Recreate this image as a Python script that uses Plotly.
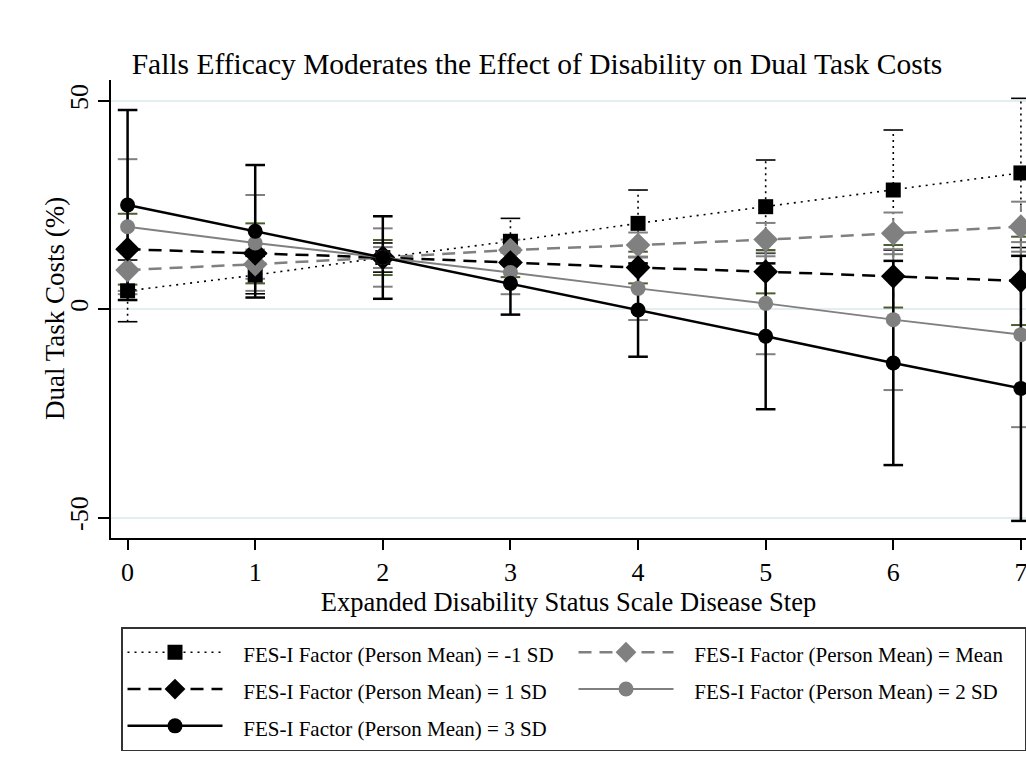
import plotly.graph_objects as go

# ---- data ----
edss = [0, 1, 2, 3, 4, 5, 6, 7]

names = [
    "FES-I Factor (Person Mean) = -1 SD",
    "FES-I Factor (Person Mean) = Mean",
    "FES-I Factor (Person Mean) = 1 SD",
    "FES-I Factor (Person Mean) = 2 SD",
    "FES-I Factor (Person Mean) = 3 SD",
]

m_neg1 = [4.4, 8.2, 12.4, 16.3, 20.6, 24.6, 28.6, 32.7]
ci_neg1 = [7.4, 4.5, 3.5, 5.5, 8.0, 11.2, 14.4, 17.9]

m_mean = [9.4, 10.8, 12.4, 14.2, 15.4, 16.7, 18.2, 19.8]
ci_mean = [5.0, 3.5, 2.5, 2.5, 3.0, 4.0, 5.0, 6.0]

m_1sd = [14.4, 13.4, 12.4, 11.2, 10.0, 9.0, 7.9, 6.8]
ci_1sd = [8.5, 7.2, 4.2, 3.5, 3.8, 5.2, 7.5, 10.6]

m_2sd = [19.8, 15.9, 12.4, 8.8, 5.0, 1.4, -2.5, -6.1]
ci_2sd = [16.2, 11.5, 7.0, 5.2, 7.6, 12.2, 16.9, 22.2]

m_3sd = [25.0, 18.7, 12.4, 6.2, -0.2, -6.5, -12.9, -19.0]
ci_3sd = [22.8, 15.9, 9.9, 7.5, 11.2, 17.5, 24.5, 31.8]

y_tickvals = [-50, 0, 50]
y_ticktext = ["-50", "0", "50"]
x_tickvals = edss

GRAY = "#808080"
BLACK = "#000000"
FONT = "Liberation Serif"

series = [
    dict(m=m_neg1, ci=ci_neg1, color=BLACK, dash="2px,5px", lw=1.6, sym="square", size=15, cicolor=BLACK, cidash="2px,4px", ciw=1.6),
    dict(m=m_mean, ci=ci_mean, color=GRAY, dash="13px,8px", lw=2.5, sym="diamond", size=19, cicolor=GRAY, cidash="6px,4px", ciw=2),
    dict(m=m_1sd, ci=ci_1sd, color=BLACK, dash="13px,8px", lw=2.5, sym="diamond", size=19, cicolor="#4a5f2e", cidash="6px,4px", ciw=2),
    dict(m=m_2sd, ci=ci_2sd, color=GRAY, dash="solid", lw=2, sym="circle", size=15, cicolor=GRAY, cidash="solid", ciw=2),
    dict(m=m_3sd, ci=ci_3sd, color=BLACK, dash="solid", lw=2.5, sym="circle", size=15, cicolor=BLACK, cidash="solid", ciw=2.5),
]

fig = go.Figure()

# confidence intervals (range caps) first
for s in series:
    xs, ys = [], []
    for x, m, c in zip(edss, s["m"], s["ci"]):
        xs += [x, x, None]
        ys += [m - c, m + c, None]
    fig.add_trace(go.Scatter(
        x=xs, y=ys, mode="lines+markers", showlegend=False, hoverinfo="skip",
        line=dict(color=s["cicolor"], width=s["ciw"], dash=s["cidash"]),
        marker=dict(symbol="line-ew", size=14, line=dict(color=s["cicolor"], width=s["ciw"])),
    ))

# lines + markers
for s, n in zip(series, names):
    fig.add_trace(go.Scatter(
        x=edss, y=s["m"], mode="lines+markers",
        name='<span style="font-size:21px">&nbsp;&nbsp;&nbsp;' + n + "</span>",
        line=dict(color=s["color"], width=s["lw"], dash=s["dash"]),
        marker=dict(symbol=s["sym"], size=s["size"], color=s["color"]),
    ))

fig.update_layout(
    width=1026, height=777,
    margin=dict(l=111, r=0, t=80, b=239, autoexpand=False),
    paper_bgcolor="white", plot_bgcolor="white",
    font=dict(family=FONT, color="black", size=22),
    title=dict(text="Falls Efficacy Moderates the Effect of Disability on Dual Task Costs",
               x=537 / 1026, xanchor="center", xref="container",
               y=1 - 64 / 777, yanchor="middle", yref="container",
               font=dict(family=FONT, size=29.5, color="black")),
    showlegend=True,
    legend=dict(
        orientation="h", x=(121 - 111) / 915, xanchor="left",
        y=(537.7 - 627) / 457.7, yanchor="top",
        bordercolor="#333333", borderwidth=1.5, bgcolor="white",
        font=dict(family=FONT, size=26, color="black"),
        itemwidth=95, entrywidth=341, traceorder="normal",
    ),
    annotations=[dict(
        text="Dual Task Costs (%)", textangle=-90, showarrow=False,
        xref="paper", yref="paper", x=(55 - 111) / 915, y=0.5,
        xanchor="center", yanchor="middle", font=dict(family=FONT, size=27, color="black"),
    )],
)

fig.update_xaxes(
    range=[-0.13, 7.04], tickvals=x_tickvals, ticks="outside", ticklen=10, tickwidth=1.5,
    tickcolor="black", showline=True, linecolor="black", linewidth=1.5,
    showgrid=False, zeroline=False, tickfont=dict(size=26), ticklabeloverflow="allow",
    title=dict(text="Expanded Disability Status Scale Disease Step", font=dict(size=26.5), standoff=0),
)
fig.update_yaxes(
    range=[-54.9, 55], tickvals=y_tickvals, ticktext=y_ticktext, ticks="outside", ticklen=11, tickwidth=1.5,
    tickcolor="black", showline=True, linecolor="black", linewidth=1.5,
    showgrid=True, gridcolor="#e4eef1", gridwidth=1.5, zeroline=False,
    tickangle=-90, tickfont=dict(size=26),
)

fig.write_html("out.html")
